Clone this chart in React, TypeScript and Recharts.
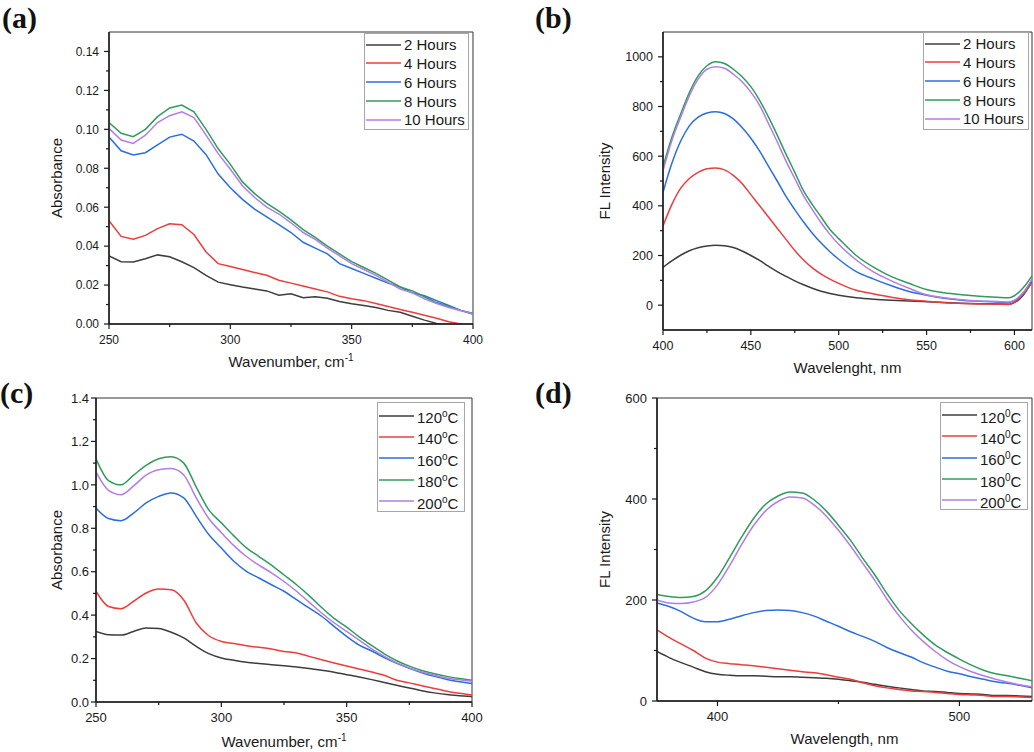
import React from 'react';
import { LineChart, Line, XAxis, YAxis, Legend, ReferenceArea } from 'recharts';

const FONT = '"Liberation Sans", Arial, Helvetica, sans-serif';
const SERIF = '"Liberation Serif", "Times New Roman", serif';
const INK = '#1a1a1a';

const hourNames = ['2 Hours', '4 Hours', '6 Hours', '8 Hours', '10 Hours'];
const tempNames = ['120', '140', '160', '180', '200'];
const seriesColors = ['#3d3d3d', '#ee3c3c', '#2a6ee0', '#2f9c5c', '#b27de6'];

// (a) absorbance, reaction time
const absX = [250, 255, 260, 265, 270, 275, 280, 285, 290, 295, 300, 305, 310, 315, 320, 325, 330, 335, 340, 345, 350, 355, 360, 365, 370, 375, 380, 385, 390, 395, 400];
const absHours2 = [0.035, 0.032, 0.0318, 0.0335, 0.0355, 0.0345, 0.032, 0.029, 0.025, 0.0215, 0.0202, 0.019, 0.018, 0.017, 0.0148, 0.0155, 0.0135, 0.014, 0.0132, 0.0116, 0.0104, 0.0095, 0.0085, 0.007, 0.006, 0.004, 0.002, 0.0003, -0.001, -0.002, -0.003];
const absHours4 = [0.053, 0.045, 0.0435, 0.0455, 0.049, 0.0515, 0.051, 0.046, 0.037, 0.031, 0.0295, 0.028, 0.0265, 0.025, 0.0225, 0.021, 0.0195, 0.018, 0.0165, 0.0142, 0.013, 0.012, 0.0105, 0.009, 0.0075, 0.006, 0.0045, 0.003, 0.0012, 0.0, -0.001];
const absHours6 = [0.096, 0.089, 0.0868, 0.088, 0.092, 0.096, 0.0975, 0.094, 0.087, 0.077, 0.07, 0.064, 0.059, 0.055, 0.051, 0.047, 0.042, 0.039, 0.036, 0.031, 0.0285, 0.026, 0.0235, 0.021, 0.019, 0.016, 0.0145, 0.012, 0.0095, 0.007, 0.005];
const absHours8 = [0.1035, 0.098, 0.0962, 0.1, 0.1065, 0.111, 0.1125, 0.109, 0.1, 0.09, 0.082, 0.073, 0.067, 0.062, 0.058, 0.0535, 0.0485, 0.0445, 0.04, 0.036, 0.032, 0.029, 0.026, 0.0225, 0.019, 0.017, 0.014, 0.011, 0.009, 0.007, 0.0055];
const absHours10 = [0.1005, 0.0945, 0.0928, 0.097, 0.1035, 0.107, 0.109, 0.106, 0.097, 0.0875, 0.0795, 0.071, 0.065, 0.06, 0.0565, 0.052, 0.047, 0.0435, 0.039, 0.035, 0.031, 0.028, 0.025, 0.0215, 0.018, 0.016, 0.013, 0.0105, 0.0085, 0.0068, 0.0052];

// (b) fluorescence, reaction time
const flX = [400, 405, 410, 415, 420, 425, 430, 435, 440, 445, 450, 455, 460, 465, 470, 475, 480, 485, 490, 495, 500, 510, 520, 530, 540, 550, 560, 570, 580, 590, 597, 600, 605, 610];
const flHours2 = [152, 178, 201, 219, 231, 238, 241, 239, 232, 218, 200, 180, 157, 135, 116, 98, 82, 68, 56, 47, 40, 30, 24, 20, 17, 14, 11, 8, 6, 5, 4, 10, 40, 95];
const flHours4 = [319, 405, 470, 510, 535, 549, 552, 545, 523, 490, 445, 400, 355, 310, 265, 220, 182, 150, 125, 105, 88, 60, 45, 32, 22, 16, 10, 7, 5, 4, 3, 12, 45, 90];
const flHours6 = [454, 570, 660, 722, 757, 774, 779, 772, 750, 715, 672, 620, 560, 500, 438, 385, 335, 290, 250, 215, 185, 135, 105, 78, 55, 40, 28, 20, 16, 13, 11, 18, 50, 100];
const flHours8 = [557, 675, 769, 856, 923, 964, 980, 973, 950, 920, 880, 825, 758, 685, 608, 535, 460, 405, 355, 305, 268, 200, 152, 115, 88, 63, 50, 42, 36, 32, 30, 38, 70, 118];
const flHours10 = [541, 662, 756, 843, 910, 950, 960, 954, 930, 900, 858, 805, 732, 658, 580, 510, 440, 385, 332, 285, 245, 182, 133, 98, 68, 42, 30, 22, 17, 15, 13, 20, 50, 105];

// (c) absorbance, temperature
const absTemp120 = [0.325, 0.31, 0.308, 0.325, 0.341, 0.338, 0.321, 0.295, 0.256, 0.223, 0.203, 0.192, 0.183, 0.177, 0.172, 0.167, 0.161, 0.154, 0.146, 0.137, 0.126, 0.115, 0.103, 0.09, 0.077, 0.064, 0.052, 0.042, 0.034, 0.029, 0.025];
const absTemp140 = [0.51, 0.44, 0.43, 0.464, 0.502, 0.52, 0.517, 0.47, 0.364, 0.305, 0.279, 0.269, 0.259, 0.252, 0.244, 0.233, 0.226, 0.21, 0.195, 0.18, 0.166, 0.152, 0.138, 0.123, 0.1, 0.088, 0.075, 0.062, 0.05, 0.04, 0.032];
const absTemp160 = [0.893, 0.845, 0.835, 0.87, 0.917, 0.947, 0.963, 0.94, 0.855, 0.771, 0.709, 0.648, 0.602, 0.571, 0.54, 0.51, 0.471, 0.433, 0.395, 0.348, 0.302, 0.262, 0.235, 0.205, 0.178, 0.155, 0.135, 0.118, 0.104, 0.093, 0.085];
const absTemp180 = [1.12, 1.02, 1.0, 1.045, 1.09, 1.12, 1.13, 1.1, 0.99, 0.885, 0.825, 0.765, 0.71, 0.67, 0.63, 0.585, 0.54, 0.49, 0.435, 0.385, 0.345, 0.3, 0.26, 0.222, 0.19, 0.165, 0.145, 0.13, 0.118, 0.108, 0.1];
const absTemp200 = [1.06, 0.975, 0.955, 0.995, 1.045, 1.07, 1.075, 1.045, 0.94, 0.845, 0.78, 0.72, 0.67, 0.63, 0.595, 0.555, 0.51, 0.46, 0.41, 0.365, 0.325, 0.285, 0.245, 0.21, 0.18, 0.157, 0.138, 0.123, 0.111, 0.102, 0.095];

// (d) fluorescence, temperature
const flTX = [375, 380, 385, 390, 395, 400, 405, 410, 415, 420, 425, 430, 435, 440, 445, 450, 455, 460, 465, 470, 475, 480, 485, 490, 495, 500, 505, 510, 515, 520, 525, 530];
const flTemp120 = [98, 86, 76, 67, 58, 53, 51, 50, 50, 49, 48, 48, 47, 46, 45, 43, 40, 37, 33, 29, 26, 23, 20, 19, 17, 15, 14, 13, 11, 11, 10, 9];
const flTemp140 = [141, 126, 113, 100, 85, 77, 74, 72, 70, 67, 64, 61, 58, 56, 52, 47, 43, 36, 30, 26, 23, 20, 19, 17, 15, 13, 12, 11, 9, 9, 8, 7];
const flTemp160 = [194, 187, 177, 164, 157, 157, 162, 169, 175, 179, 180, 179, 175, 168, 158, 148, 137, 128, 118, 106, 96, 87, 76, 67, 59, 54, 48, 43, 38, 35, 31, 26];
const flTemp180 = [211, 207, 205, 207, 218, 245, 284, 325, 362, 390, 406, 414, 412, 398, 376, 348, 318, 283, 250, 213, 180, 154, 131, 111, 96, 83, 71, 61, 54, 50, 45, 40];
const flTemp200 = [200, 194, 193, 196, 205, 230, 268, 310, 348, 377, 395, 404, 402, 388, 366, 338, 307, 273, 239, 202, 169, 141, 118, 98, 81, 68, 58, 50, 43, 37, 32, 28];

// tick values (minor ticks carry no label)
const absXTicks = [250, 275, 300, 325, 350, 375, 400];
const absXMajor = [250, 300, 350, 400];
const absYTicksA = [0, 0.01, 0.02, 0.03, 0.04, 0.05, 0.06, 0.07, 0.08, 0.09, 0.1, 0.11, 0.12, 0.13, 0.14];
const absYMajorA = [0, 0.02, 0.04, 0.06, 0.08, 0.1, 0.12, 0.14];
const flXTicksB = [400, 425, 450, 475, 500, 525, 550, 575, 600];
const flXMajorB = [400, 450, 500, 550, 600];
const flYTicksB = [0, 100, 200, 300, 400, 500, 600, 700, 800, 900, 1000];
const flYMajorB = [0, 200, 400, 600, 800, 1000];
const absYTicksC = [0, 0.1, 0.2, 0.3, 0.4, 0.5, 0.6, 0.7, 0.8, 0.9, 1.0, 1.1, 1.2, 1.3, 1.4];
const absYMajorC = [0, 0.2, 0.4, 0.6, 0.8, 1.0, 1.2, 1.4];
const flXTicksD = [400, 450, 500];
const flXMajorD = [400, 500];
const flYTicksD = [0, 100, 200, 300, 400, 500, 600];
const flYMajorD = [0, 200, 400, 600];

type Row = { [k: string]: number };

function toRows(xs: number[], series: number[][]): Row[] {
  return xs.map((x, i) => {
    const r: Row = { x };
    series.forEach((s, k) => {
      r['s' + k] = s[i];
    });
    return r;
  });
}

const isIn = (list: number[], v: number) => list.some((m) => Math.abs(m - v) < 1e-9);

function yTick(major: number[], digits: number, fontSize: number, gap: number) {
  return (p: any) => {
    const v = Number(p.payload.value);
    const big = isIn(major, v);
    return (
      <g>
        <line x1={p.x} x2={p.x - (big ? 5 : 3)} y1={p.y} y2={p.y} stroke={INK} strokeWidth={1.2} />
        {big && (
          <text x={p.x - gap} y={p.y} dy="0.36em" textAnchor="end" fontSize={fontSize} fontFamily={FONT} fill={INK}>
            {v.toFixed(digits)}
          </text>
        )}
      </g>
    );
  };
}

function xTick(major: number[], fontSize: number) {
  return (p: any) => {
    const v = Number(p.payload.value);
    const big = isIn(major, v);
    return (
      <g>
        <line x1={p.x} x2={p.x} y1={p.y} y2={p.y + (big ? 5 : 3)} stroke={INK} strokeWidth={1.2} />
        {big && (
          <text x={p.x} y={p.y + 11} dy="0.72em" textAnchor="middle" fontSize={fontSize} fontFamily={FONT} fill={INK}>
            {String(v)}
          </text>
        )}
      </g>
    );
  };
}

interface LegendBox {
  left: number;
  top: number;
  w: number;
  h: number;
  row: number;
  padTop: number;
}

interface PanelProps {
  pos: { left: number; top: number };
  width: number;
  height: number;
  margin: { top: number; right: number; bottom: number; left: number };
  yAxisWidth: number;
  xAxisHeight: number;
  rows: Row[];
  names: string[];
  curve: 'linear' | 'monotone';
  xDomain: [number, number];
  yDomain: [number, number];
  xTicks: number[];
  xMajor: number[];
  yTicks: number[];
  yMajor: number[];
  yDigits: number;
  tickFont: number;
  yGap: number;
  xTitle: React.ReactNode;
  xTitleDrop: number;
  yTitle: string;
  legend: LegendBox;
  legendLabel: (name: string) => React.ReactNode;
}

function Panel(props: PanelProps) {
  const { margin, yAxisWidth, xAxisHeight, width, height } = props;
  const plotLeft = margin.left + yAxisWidth;
  const plotRight = width - margin.right;
  const plotTop = margin.top;
  const plotBottom = height - margin.bottom - xAxisHeight;
  const yTitleX = margin.left + yAxisWidth / 2;
  const yTitleY = (plotTop + plotBottom) / 2;

  const renderLegend = () => (
    <div
      style={{
        width: props.legend.w,
        height: props.legend.h,
        boxSizing: 'border-box',
        border: '1px solid #a6a6a6',
        background: '#fff',
        paddingTop: props.legend.padTop,
        fontFamily: FONT,
        fontSize: 15,
        color: INK,
      }}
    >
      {props.names.map((n, i) => (
        <div key={n} style={{ display: 'flex', alignItems: 'center', height: props.legend.row }}>
          <svg width={36} height={4} style={{ display: 'block', flex: 'none' }}>
            <line x1={1} x2={36} y1={2} y2={2} stroke={seriesColors[i]} strokeWidth={1.6} />
          </svg>
          <span style={{ marginLeft: 3, whiteSpace: 'nowrap', lineHeight: '15px' }}>{props.legendLabel(n)}</span>
        </div>
      ))}
    </div>
  );

  return (
    <div style={{ position: 'absolute', left: props.pos.left, top: props.pos.top }}>
      <LineChart width={width} height={height} data={props.rows} margin={margin}>
        <ReferenceArea
          x1={props.xDomain[0]}
          x2={props.xDomain[1]}
          y1={props.yDomain[0]}
          y2={props.yDomain[1]}
          fill="none"
          fillOpacity={0}
          stroke="#333"
          strokeWidth={1}
          ifOverflow="visible"
        />
        <XAxis
          dataKey="x"
          type="number"
          domain={props.xDomain}
          ticks={props.xTicks}
          interval={0}
          allowDataOverflow
          height={xAxisHeight}
          tickSize={0}
          tickMargin={0}
          tickLine={false}
          axisLine={{ stroke: INK, strokeWidth: 1.5 }}
          tick={xTick(props.xMajor, props.tickFont)}
          label={() => (
            <text
              x={(plotLeft + plotRight) / 2}
              y={plotBottom + props.xTitleDrop}
              textAnchor="middle"
              fontSize={15}
              fontFamily={FONT}
              fill={INK}
            >
              {props.xTitle}
            </text>
          )}
        />
        <YAxis
          type="number"
          domain={props.yDomain}
          ticks={props.yTicks}
          interval={0}
          allowDataOverflow
          width={yAxisWidth}
          tickSize={0}
          tickMargin={0}
          tickLine={false}
          axisLine={{ stroke: INK, strokeWidth: 1.5 }}
          tick={yTick(props.yMajor, props.yDigits, props.tickFont, props.yGap)}
          label={() => (
            <text
              x={yTitleX}
              y={yTitleY}
              transform={`rotate(-90 ${yTitleX} ${yTitleY})`}
              textAnchor="middle"
              dominantBaseline="central"
              fontSize={15}
              fontFamily={FONT}
              fill={INK}
            >
              {props.yTitle}
            </text>
          )}
        />
        <Legend
          layout="vertical"
          align="center"
          verticalAlign="middle"
          content={renderLegend}
          wrapperStyle={{
            left: props.legend.left,
            top: props.legend.top,
            width: props.legend.w,
            height: props.legend.h,
            margin: 0,
          }}
        />
        {props.names.map((n, i) => (
          <Line
            key={n}
            type={props.curve}
            dataKey={'s' + i}
            name={n}
            stroke={seriesColors[i]}
            strokeWidth={1.5}
            dot={false}
            activeDot={false}
            isAnimationActive={false}
          />
        ))}
      </LineChart>
    </div>
  );
}

const hoursLabel = (n: string) => n;
const tempLabelO = (n: string) => (
  <>
    {n}
    <sup style={{ fontSize: 10 }}>o</sup>C
  </>
);
const tempLabel0 = (n: string) => (
  <>
    {n}
    <sup style={{ fontSize: 10 }}>0</sup>C
  </>
);

const wavenumberTitle = (
  <>
    <tspan>Wavenumber, cm</tspan>
    <tspan dy={-6} fontSize={10}>
      -1
    </tspan>
  </>
);

const tagStyle = (left: number, top: number): React.CSSProperties => ({
  position: 'absolute',
  left,
  top,
  fontFamily: SERIF,
  fontWeight: 'bold',
  fontSize: 30,
  lineHeight: '30px',
  color: '#111',
});

export default function App() {
  const rowsA = toRows(absX, [absHours2, absHours4, absHours6, absHours8, absHours10]);
  const rowsB = toRows(flX, [flHours2, flHours4, flHours6, flHours8, flHours10]);
  const rowsC = toRows(absX, [absTemp120, absTemp140, absTemp160, absTemp180, absTemp200]);
  const rowsD = toRows(flTX, [flTemp120, flTemp140, flTemp160, flTemp180, flTemp200]);

  return (
    <div style={{ position: 'absolute', left: 0, top: 0, width: 1034, height: 752, background: '#fff', overflow: 'hidden' }}>
      <Panel
        pos={{ left: 0, top: 0 }}
        width={517}
        height={380}
        margin={{ top: 32, right: 44, bottom: 16, left: 3 }}
        yAxisWidth={106}
        xAxisHeight={40}
        rows={rowsA}
        names={hourNames}
        curve="linear"
        xDomain={[250, 400]}
        yDomain={[0, 0.15]}
        xTicks={absXTicks}
        xMajor={absXMajor}
        yTicks={absYTicksA}
        yMajor={absYMajorA}
        yDigits={2}
        tickFont={12}
        yGap={10}
        xTitle={wavenumberTitle}
        xTitleDrop={43}
        yTitle="Absorbance"
        legend={{ left: 364, top: 33, w: 105, h: 97, row: 18.8, padTop: 1.3 }}
        legendLabel={hoursLabel}
      />
      <Panel
        pos={{ left: 517, top: 0 }}
        width={517}
        height={380}
        margin={{ top: 32, right: 2, bottom: 10, left: 28 }}
        yAxisWidth={118}
        xAxisHeight={40}
        rows={rowsB}
        names={hourNames}
        curve="monotone"
        xDomain={[400, 610]}
        yDomain={[-100, 1100]}
        xTicks={flXTicksB}
        xMajor={flXMajorB}
        yTicks={flYTicksB}
        yMajor={flYMajorB}
        yDigits={0}
        tickFont={12.5}
        yGap={10}
        xTitle="Wavelenght, nm"
        xTitleDrop={43}
        yTitle="FL Intensity"
        legend={{ left: 406, top: 32, w: 106, h: 98, row: 18.8, padTop: 1.3 }}
        legendLabel={hoursLabel}
      />
      <Panel
        pos={{ left: 0, top: 370 }}
        width={517}
        height={382}
        margin={{ top: 28, right: 45, bottom: 6, left: 16 }}
        yAxisWidth={80}
        xAxisHeight={44}
        rows={rowsC}
        names={tempNames}
        curve="monotone"
        xDomain={[250, 400]}
        yDomain={[0, 1.4]}
        xTicks={absXTicks}
        xMajor={absXMajor}
        yTicks={absYTicksC}
        yMajor={absYMajorC}
        yDigits={1}
        tickFont={13}
        yGap={7}
        xTitle={wavenumberTitle}
        xTitleDrop={45}
        yTitle="Absorbance"
        legend={{ left: 377, top: 32, w: 88, h: 110, row: 21.4, padTop: 1.9 }}
        legendLabel={tempLabelO}
      />
      <Panel
        pos={{ left: 517, top: 370 }}
        width={517}
        height={382}
        margin={{ top: 28, right: 2, bottom: 6, left: 34 }}
        yAxisWidth={106}
        xAxisHeight={45}
        rows={rowsD}
        names={tempNames}
        curve="monotone"
        xDomain={[375, 530]}
        yDomain={[0, 600]}
        xTicks={flXTicksD}
        xMajor={flXMajorD}
        yTicks={flYTicksD}
        yMajor={flYMajorD}
        yDigits={0}
        tickFont={13}
        yGap={10}
        xTitle="Wavelength, nm"
        xTitleDrop={43}
        yTitle="FL Intensity"
        legend={{ left: 423, top: 32, w: 88, h: 108, row: 21.3, padTop: 1.5 }}
        legendLabel={tempLabel0}
      />
      <div style={tagStyle(2, 3)}>(a)</div>
      <div style={tagStyle(535, 3)}>(b)</div>
      <div style={tagStyle(0, 378)}>(c)</div>
      <div style={tagStyle(535, 378)}>(d)</div>
    </div>
  );
}
